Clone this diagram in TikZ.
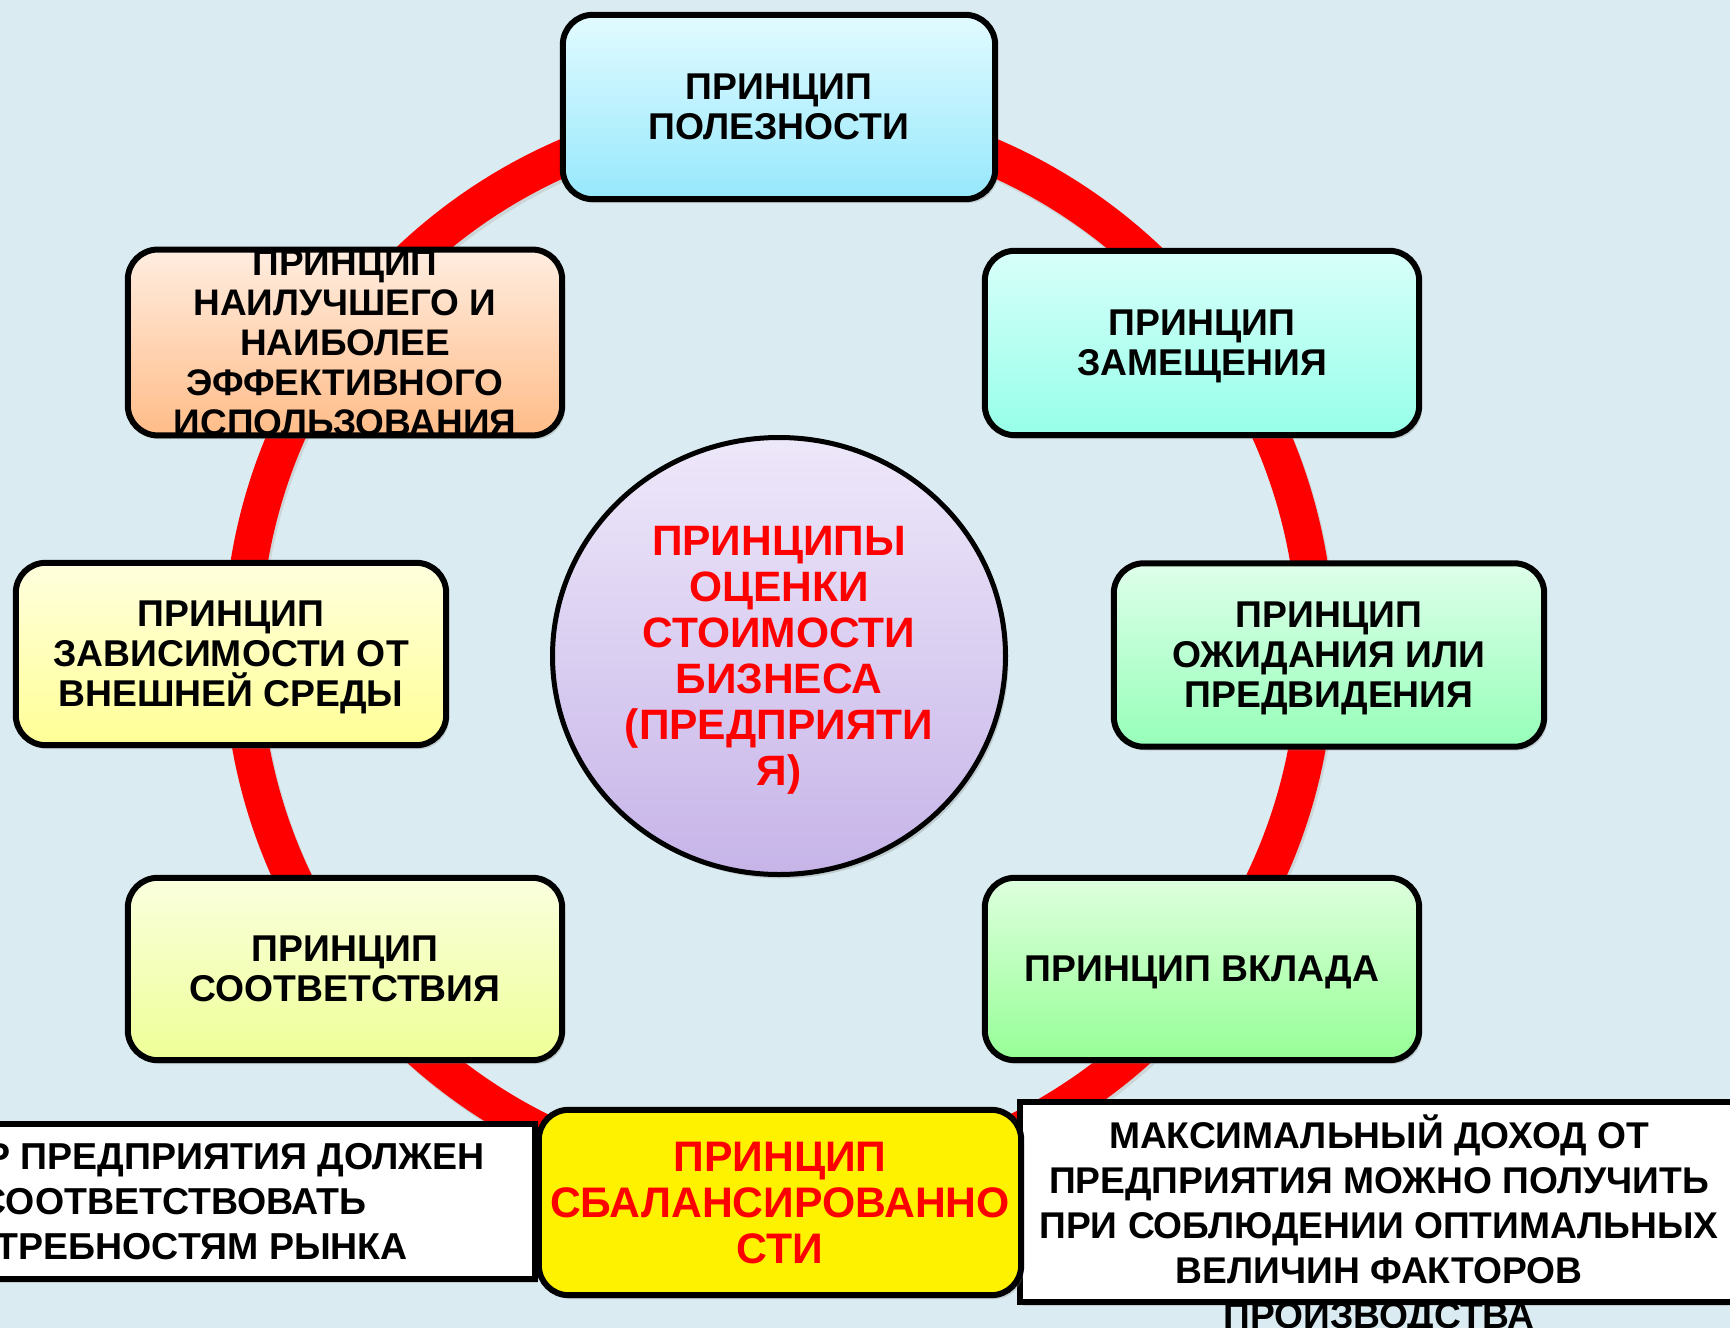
\documentclass[tikz,border=0pt]{standalone}
\usepackage{fontspec}
\setmainfont{Liberation Sans}
\usetikzlibrary{shapes.geometric,shadows}
\definecolor{bg}{RGB}{218,236,242}
\definecolor{ringred}{RGB}{255,0,0}
\definecolor{tpA}{RGB}{226,251,255}\definecolor{tpB}{RGB}{150,232,252}
\definecolor{tlA}{RGB}{255,237,224}\definecolor{tlB}{RGB}{255,188,136}
\definecolor{trA}{RGB}{216,255,250}\definecolor{trB}{RGB}{150,255,232}
\definecolor{mlA}{RGB}{255,255,222}\definecolor{mlB}{RGB}{255,255,150}
\definecolor{mrA}{RGB}{222,255,234}\definecolor{mrB}{RGB}{150,255,185}
\definecolor{blA}{RGB}{250,255,222}\definecolor{blB}{RGB}{238,255,150}
\definecolor{brA}{RGB}{222,255,222}\definecolor{brB}{RGB}{150,255,150}
\definecolor{ccA}{RGB}{238,232,250}\definecolor{ccB}{RGB}{198,180,232}
\newcommand{\lastln}[1]{\smash{#1}\vphantom{П}}
\begin{document}
\begin{tikzpicture}[x=1pt,y=-1pt,
  every node/.style={inner sep=0pt},
  pbox/.style={rounded corners=30pt, align=center,
    font=\bfseries\fontsize{37.3}{40}\selectfont,
    drop shadow={opacity=0.3, shadow xshift=3pt, shadow yshift=-4pt}},
  bord/.style={draw=black, line width=6pt, rounded corners=30pt},
  sqbord/.style={draw=black, line width=6pt},
  wbox/.style={fill=white, drop shadow={opacity=0.3, shadow xshift=3pt, shadow yshift=-4pt}},
  wtxt/.style={anchor=base east, font=\bfseries\fontsize{37.5}{40}\selectfont},
]
\useasboundingbox (0,0) rectangle (1730,1328);
\fill[bg] (0,0) rectangle (1730,1328);

% red ring
\draw[black!25, line width=37pt, opacity=0.5] (781,653) circle[radius=537];
\draw[ringred, line width=37pt] (779,650) circle[radius=537];

% centre circle
\node[ellipse, minimum width=453pt, minimum height=437pt, top color=ccA, bottom color=ccB,
  draw=black, line width=5pt, align=center, text=ringred,
  font=\bfseries\fontsize{42.5}{46}\selectfont,
  drop shadow={opacity=0.3, shadow xshift=3pt, shadow yshift=-4pt}]
  (cc) at (779,656) {ПРИНЦИПЫ\\ОЦЕНКИ\\СТОИМОСТИ\\БИЗНЕСА\\(ПРЕДПРИЯТИ\\\lastln{Я)}};

% principle boxes
\node[pbox, minimum width=432pt, minimum height=184pt, top color=tpA, bottom color=tpB]
  (tp) at (779,107) {ПРИНЦИП\\\lastln{ПОЛЕЗНОСТИ}};
\draw[bord] (tp.north west) rectangle (tp.south east);

\node[pbox, minimum width=434pt, minimum height=185pt, top color=tlA, bottom color=tlB,
  font=\bfseries\fontsize{37}{40}\selectfont]
  (tl) at (345,342.5) {ПРИНЦИП\\НАИЛУЧШЕГО И\\НАИБОЛЕЕ\\ЭФФЕКТИВНОГО\\\lastln{ИСПОЛЬЗОВАНИЯ}};
\draw[bord] (tl.north west) rectangle (tl.south east);

\node[pbox, minimum width=434pt, minimum height=184pt, top color=trA, bottom color=trB]
  (tr) at (1202,343) {ПРИНЦИП\\\lastln{ЗАМЕЩЕНИЯ}};
\draw[bord] (tr.north west) rectangle (tr.south east);

\node[pbox, minimum width=430pt, minimum height=182pt, top color=mlA, bottom color=mlB]
  (ml) at (231,654) {ПРИНЦИП\\ЗАВИСИМОСТИ ОТ\\\lastln{ВНЕШНЕЙ СРЕДЫ}};
\draw[bord] (ml.north west) rectangle (ml.south east);

\node[pbox, minimum width=430pt, minimum height=183pt, top color=mrA, bottom color=mrB]
  (mr) at (1329,655) {ПРИНЦИП\\ОЖИДАНИЯ ИЛИ\\\lastln{ПРЕДВИДЕНИЯ}};
\draw[bord] (mr.north west) rectangle (mr.south east);

\node[pbox, minimum width=434pt, minimum height=182pt, top color=blA, bottom color=blB]
  (bl) at (345,969) {ПРИНЦИП\\\lastln{СООТВЕТСТВИЯ}};
\draw[bord] (bl.north west) rectangle (bl.south east);

\node[pbox, minimum width=434pt, minimum height=182pt, top color=brA, bottom color=brB]
  (br) at (1202,969) {\lastln{ПРИНЦИП ВКЛАДА}};
\draw[bord] (br.north west) rectangle (br.south east);

% left white box
\node[wbox, minimum width=560pt, minimum height=155pt] (lw) at (255,1201.5) {};
\node[wtxt] (lw1) at (485,1169) {Р ПРЕДПРИЯТИЯ ДОЛЖЕН};
\node[wtxt] (lw2) at (367,1214) {СООТВЕТСТВОВАТЬ};
\node[wtxt] (lw3) at (408,1259) {ТРЕБНОСТЯМ РЫНКА};
\draw[sqbord] (lw.north west) rectangle (lw.south east);

% right white box
\node[wbox, minimum width=730pt, minimum height=200pt] (rw) at (1385,1202) {};
\node[align=center, font=\bfseries\fontsize{37.2}{45}\selectfont] (rwt) at (1379,1225)
  {МАКСИМАЛЬНЫЙ ДОХОД ОТ\\ПРЕДПРИЯТИЯ МОЖНО ПОЛУЧИТЬ\\ПРИ СОБЛЮДЕНИИ ОПТИМАЛЬНЫХ\\ВЕЛИЧИН ФАКТОРОВ\\ПРОИЗВОДСТВА};
\draw[sqbord] (rw.north west) rectangle (rw.south east);

% bottom centre box
\node[pbox, minimum width=482pt, minimum height=185pt, fill=yellow, text=ringred,
  font=\bfseries\fontsize{42.7}{46}\selectfont]
  (bc) at (780,1202.5) {ПРИНЦИП\\СБАЛАНСИРОВАННО\\\lastln{СТИ}};
\draw[bord] (bc.north west) rectangle (bc.south east);
\end{tikzpicture}
\end{document}
